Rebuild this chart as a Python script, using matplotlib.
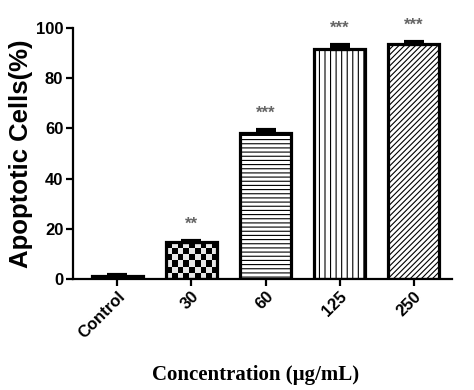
import numpy as np
import matplotlib
matplotlib.use('Agg')
import matplotlib.pyplot as plt

# data
groups = ['Control', '30', '60', '125', '250']
apoptotic = [1.0, 14.5, 58.2, 91.8, 93.8]
sem = [0.6, 0.5, 1.0, 1.4, 0.5]
stars = ['', '**', '***', '***', '***']
hatches = [None, 'checker', '----', '|||', '//////']

plt.rcParams['font.family'] = ['Liberation Sans', 'DejaVu Sans']
plt.rcParams['hatch.linewidth'] = 0.8

fig = plt.figure(figsize=(4.74, 3.9), dpi=100)
ax = fig.add_axes([0.154, 0.285, 0.80, 0.643])

x = np.arange(len(groups))
bars = ax.bar(x, apoptotic, width=0.69, color='white', edgecolor='black',
              linewidth=2.3, zorder=2)

for b, h in zip(bars, hatches):
    if h == 'checker':
        # checkerboard fill clipped to the bar
        b.set_facecolor('none')
        x0, y0 = b.get_x(), b.get_y()
        w, hgt = b.get_width(), b.get_height()
        board = np.indices((6, 9)).sum(axis=0) % 2
        im = ax.imshow(board, cmap='gray', vmin=0, vmax=1.1,
                       extent=[x0, x0 + w, y0, y0 + hgt],
                       aspect='auto', interpolation='nearest', zorder=1.5)
        im.set_clip_path(b)
    elif h:
        b.set_hatch(h)

ax.errorbar(x, apoptotic, yerr=[np.zeros(len(sem)), sem], fmt='none',
            ecolor='black', elinewidth=2.5, capsize=7, capthick=3, zorder=3)

for xi, v, e, s in zip(x, apoptotic, sem, stars):
    if s:
        ax.annotate(s, (xi, v + e), xytext=(0, 7), textcoords='offset points',
                    ha='center', va='bottom', fontsize=12, color='#666666',
                    fontweight='bold')

ax.set_xlim(-0.6, 4.52)
ax.set_ylim(0, 100)
ax.set_yticks([0, 20, 40, 60, 80, 100])
ax.set_xticks(x)
ax.set_xticklabels(groups, rotation=45, ha='right', rotation_mode='anchor',
                   fontsize=12, fontweight='bold')
for lab in ax.get_yticklabels():
    lab.set_fontsize(12)
    lab.set_fontweight('bold')

ax.spines['top'].set_visible(False)
ax.spines['right'].set_visible(False)
ax.spines['left'].set_linewidth(1.6)
ax.spines['bottom'].set_linewidth(1.6)
ax.tick_params(axis='both', direction='out', length=5, width=1.6, pad=2)

ax.set_ylabel('Apoptotic Cells(%)', fontsize=18.5, fontweight='bold', labelpad=2)
fig.text(0.54, 0.038, 'Concentration (µg/mL)', ha='center', va='center',
         fontsize=15, fontweight='bold', family=['Liberation Serif', 'DejaVu Serif'])

fig.savefig('out.png', dpi=100)
